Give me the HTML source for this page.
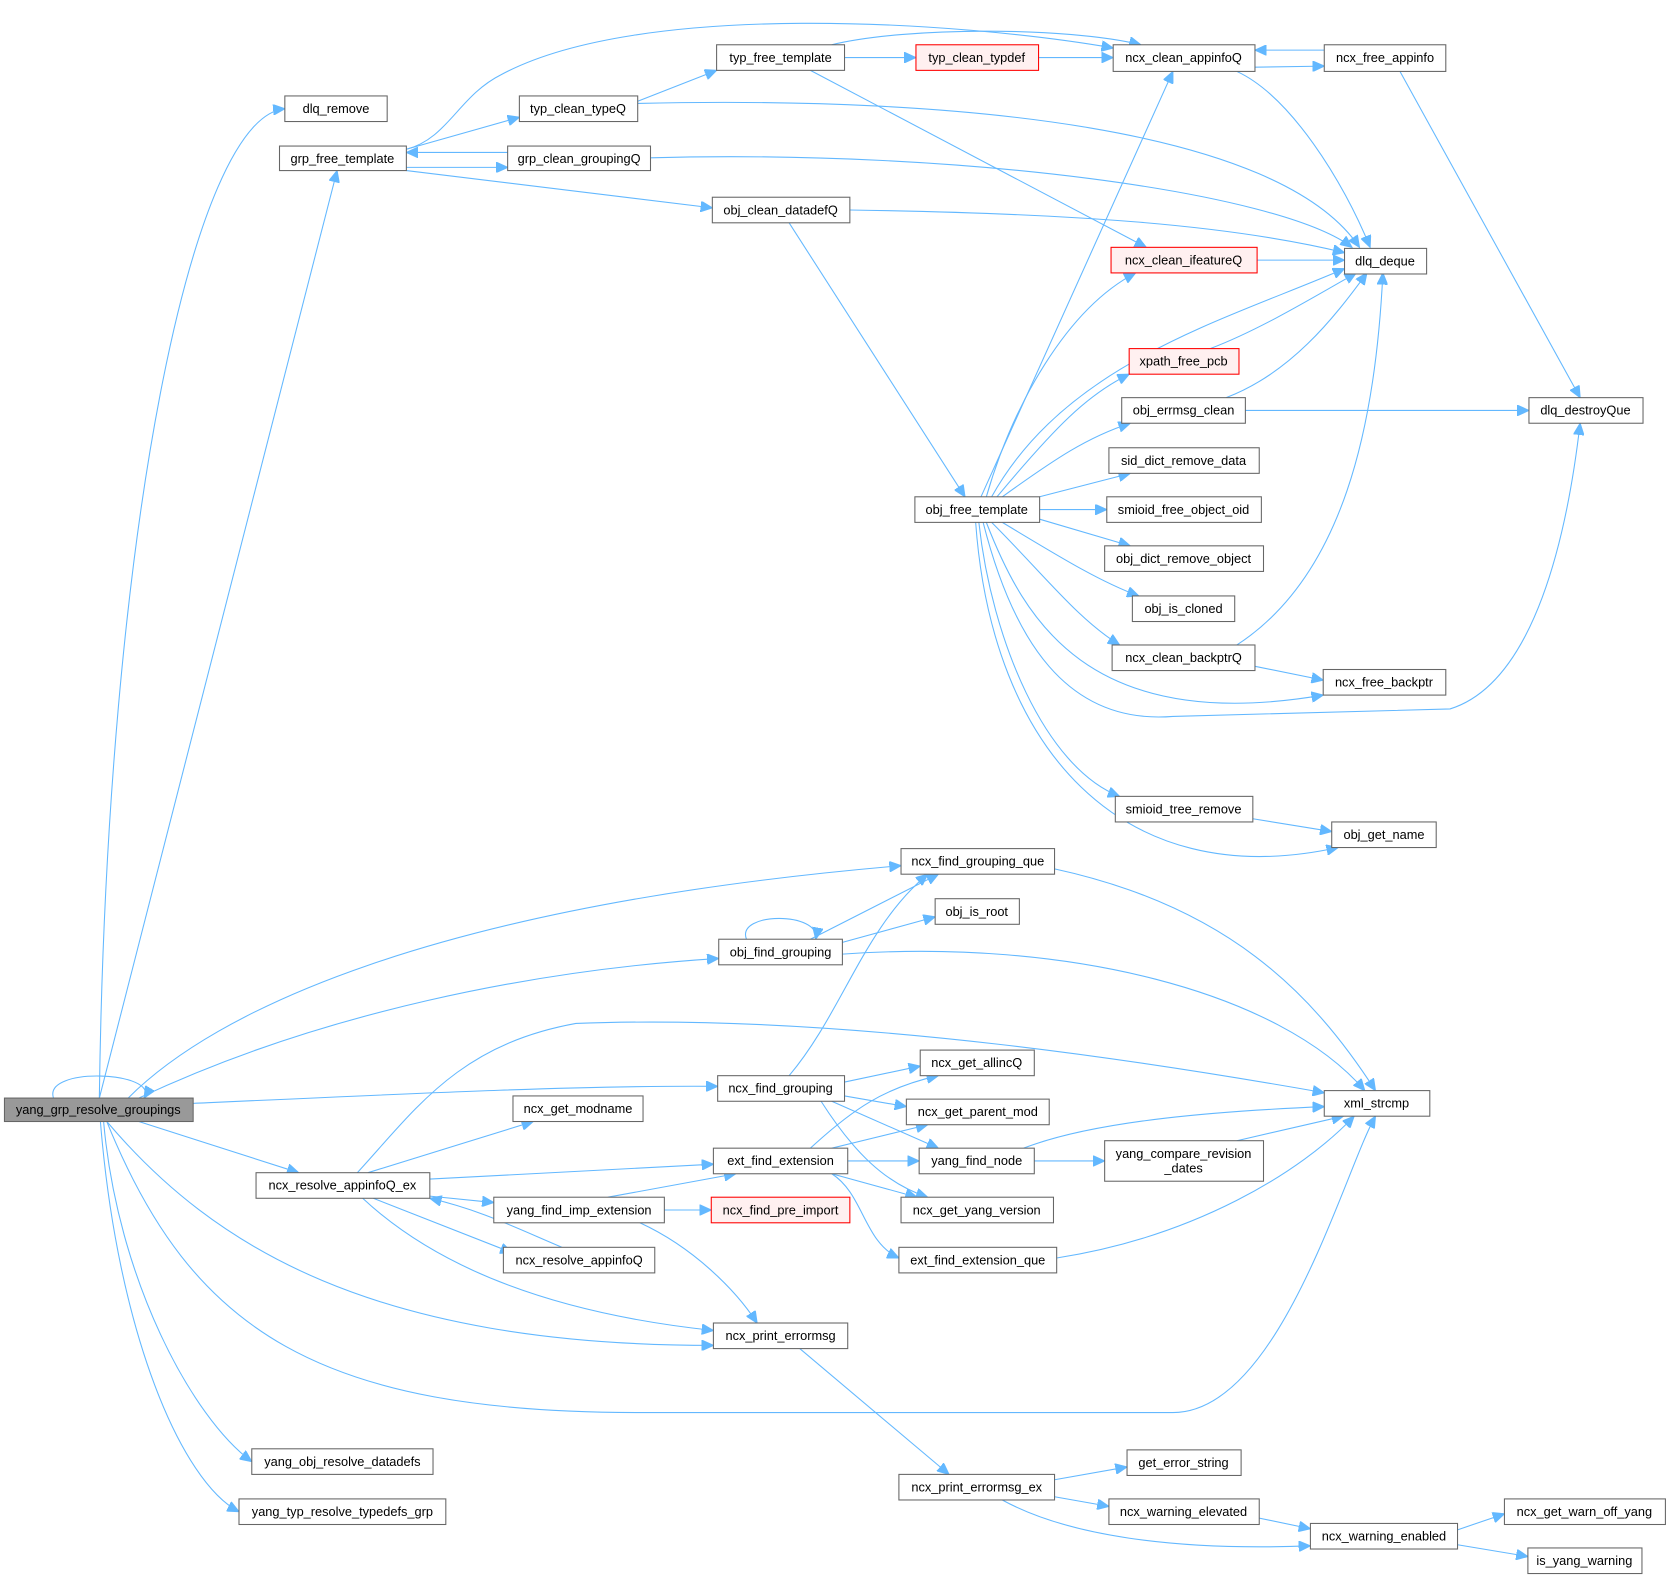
<!DOCTYPE html>
<html><head><meta charset="utf-8"><style>
html,body{margin:0;padding:0;background:#fff;}
svg{display:block}
text{font-family:"Liberation Sans",Arial,sans-serif;font-size:12px;fill:#000;text-anchor:middle}
.b{fill:#fff;stroke:#666;stroke-width:1}
.r{fill:#fff0f0;stroke:#f00;stroke-width:1}
.e path{fill:none;stroke:#63b8ff;stroke-width:1;marker-end:url(#a)}
</style></head><body>
<svg width="1672" height="1581" viewBox="0 0 1568 1483" xmlns="http://www.w3.org/2000/svg">
<defs><marker id="a" markerUnits="userSpaceOnUse" markerWidth="12" markerHeight="10" refX="11" refY="5" orient="auto"><path d="M0,0 L11,5 L0,10 z" fill="#63b8ff" stroke="#63b8ff"/></marker></defs>
<g class="e">
<path d="M50,1030 C40,1000 150,1005 135,1030"/>
<path d="M93,1030 C100,500 180,110 267,102"/>
<path d="M93,1030 L316,160"/>
<path d="M120,1030 C200,950 400,850 845,812"/>
<path d="M130,1030 C300,950 500,910 674,899"/>
<path d="M181,1035 C400,1025 550,1018 673,1019"/>
<path d="M100,1052 C180,1250 300,1325 600,1325 L1100,1325 C1200,1325 1260,1100 1290,1047"/>
<path d="M130,1052 L280,1100"/>
<path d="M100,1052 C200,1170 350,1262 669,1262"/>
<path d="M97,1052 C110,1200 180,1330 236,1371"/>
<path d="M94,1052 C110,1250 170,1390 224,1418"/>
<path d="M381,140 C420,130 430,90 470,70 C600,0 900,20 1044,45"/>
<path d="M381,140 L487,110"/>
<path d="M381,157 L476,157"/>
<path d="M476,143 L381,143"/>
<path d="M381,160 L668,195"/>
<path d="M598,95 L672,66"/>
<path d="M598,97 C900,90 1200,120 1275,232"/>
<path d="M610,148 C900,140 1200,180 1268,232"/>
<path d="M792,54 L859,54"/>
<path d="M780,42 C850,25 1000,25 1070,42"/>
<path d="M760,66 L1075,232"/>
<path d="M974,54 L1044,54"/>
<path d="M1177,63 L1242,62"/>
<path d="M1242,47 L1177,47"/>
<path d="M1160,67 C1210,90 1260,170 1285,232"/>
<path d="M1313,67 L1482,373"/>
<path d="M797,197 C1000,200 1150,210 1261,237"/>
<path d="M740,209 L905,466"/>
<path d="M1179,244 L1261,244"/>
<path d="M920,466 L1100,67"/>
<path d="M925,466 C950,380 1000,290 1065,256"/>
<path d="M930,466 C1000,340 1150,300 1261,252"/>
<path d="M935,466 C990,400 1020,370 1059,351"/>
<path d="M940,466 C990,430 1020,410 1060,397"/>
<path d="M975,466 L1060,444"/>
<path d="M975,478 L1038,478"/>
<path d="M975,487 L1060,512"/>
<path d="M940,490 C990,520 1030,545 1068,559"/>
<path d="M930,490 C980,540 1010,580 1050,605"/>
<path d="M925,490 C960,580 1020,690 1241,652"/>
<path d="M922,490 C950,600 1000,680 1100,672 L1360,665 C1440,640 1470,500 1482,397"/>
<path d="M918,490 C930,600 980,720 1050,747"/>
<path d="M915,490 C930,700 1050,840 1255,795"/>
<path d="M1135,327 C1180,310 1230,280 1272,256"/>
<path d="M1150,373 C1210,350 1250,300 1282,256"/>
<path d="M1168,385 L1434,385"/>
<path d="M1160,605 C1260,540 1290,400 1297,256"/>
<path d="M1177,625 L1241,638"/>
<path d="M1175,768 L1249,780"/>
<path d="M989,815 C1150,850 1230,930 1290,1023"/>
<path d="M760,881 L880,820"/>
<path d="M790,884 L877,860"/>
<path d="M700,881 C690,855 770,855 765,881"/>
<path d="M790,895 C1000,880 1200,930 1280,1023"/>
<path d="M740,1009 C790,950 810,870 870,820"/>
<path d="M792,1015 L863,1000"/>
<path d="M792,1028 L850,1038"/>
<path d="M780,1033 L880,1077"/>
<path d="M770,1033 C800,1080 830,1110 870,1123"/>
<path d="M335,1100 C390,1040 430,980 540,960 C800,950 1100,1000 1242,1025"/>
<path d="M345,1100 L500,1052"/>
<path d="M403,1106 L669,1092"/>
<path d="M403,1122 L463,1128"/>
<path d="M350,1124 L480,1175"/>
<path d="M340,1124 C400,1180 500,1230 669,1248"/>
<path d="M527,1170 C480,1150 450,1135 403,1124"/>
<path d="M570,1123 L690,1101"/>
<path d="M623,1135 L667,1135"/>
<path d="M600,1147 C650,1170 690,1210 710,1241"/>
<path d="M760,1077 C800,1040 830,1020 880,1009"/>
<path d="M780,1077 L870,1055"/>
<path d="M795,1089 L862,1089"/>
<path d="M780,1101 L860,1123"/>
<path d="M780,1101 C810,1120 810,1165 843,1180"/>
<path d="M960,1077 C1030,1050 1150,1042 1242,1038"/>
<path d="M970,1089 L1036,1089"/>
<path d="M1160,1070 L1260,1047"/>
<path d="M991,1180 C1120,1160 1220,1100 1270,1047"/>
<path d="M750,1265 L890,1383"/>
<path d="M989,1388 L1057,1376"/>
<path d="M989,1404 L1040,1413"/>
<path d="M940,1407 C1000,1440 1100,1455 1229,1450"/>
<path d="M1181,1424 L1229,1434"/>
<path d="M1367,1435 L1411,1420"/>
<path d="M1367,1449 L1433,1460"/>
</g>
<rect x="4" y="1030" width="177" height="22" fill="#999" stroke="#666"/><text x="92" y="1045">yang_grp_resolve_groupings</text>
<rect class="b" x="267" y="90" width="96" height="24"/><text x="315" y="106">dlq_remove</text>
<rect class="b" x="262" y="137" width="119" height="23"/><text x="321" y="153">grp_free_template</text>
<rect class="b" x="487" y="90" width="111" height="24"/><text x="542" y="106">typ_clean_typeQ</text>
<rect class="b" x="476" y="137" width="134" height="23"/><text x="543" y="153">grp_clean_groupingQ</text>
<rect class="b" x="672" y="42" width="120" height="24"/><text x="732" y="58">typ_free_template</text>
<rect class="r" x="859" y="42" width="115" height="24"/><text x="916" y="58">typ_clean_typdef</text>
<rect class="b" x="1044" y="42" width="133" height="25"/><text x="1110" y="58">ncx_clean_appinfoQ</text>
<rect class="b" x="1242" y="42" width="114" height="25"/><text x="1299" y="58">ncx_free_appinfo</text>
<rect class="b" x="668" y="185" width="129" height="24"/><text x="732" y="201">obj_clean_datadefQ</text>
<rect class="r" x="1042" y="232" width="137" height="24"/><text x="1110" y="248">ncx_clean_ifeatureQ</text>
<rect class="b" x="1261" y="233" width="77" height="24"/><text x="1299" y="249">dlq_deque</text>
<rect class="r" x="1059" y="327" width="103" height="24"/><text x="1110" y="343">xpath_free_pcb</text>
<rect class="b" x="1052" y="373" width="116" height="24"/><text x="1110" y="389">obj_errmsg_clean</text>
<rect class="b" x="1434" y="373" width="107" height="24"/><text x="1487" y="389">dlq_destroyQue</text>
<rect class="b" x="1040" y="420" width="141" height="24"/><text x="1110" y="436">sid_dict_remove_data</text>
<rect class="b" x="858" y="466" width="117" height="24"/><text x="916" y="482">obj_free_template</text>
<rect class="b" x="1038" y="466" width="145" height="24"/><text x="1110" y="482">smioid_free_object_oid</text>
<rect class="b" x="1036" y="512" width="149" height="24"/><text x="1110" y="528">obj_dict_remove_object</text>
<rect class="b" x="1062" y="559" width="96" height="24"/><text x="1110" y="575">obj_is_cloned</text>
<rect class="b" x="1043" y="605" width="134" height="24"/><text x="1110" y="621">ncx_clean_backptrQ</text>
<rect class="b" x="1241" y="628" width="115" height="24"/><text x="1298" y="644">ncx_free_backptr</text>
<rect class="b" x="1046" y="747" width="129" height="24"/><text x="1110" y="763">smioid_tree_remove</text>
<rect class="b" x="1249" y="771" width="98" height="24"/><text x="1298" y="787">obj_get_name</text>
<rect class="b" x="845" y="796" width="144" height="24"/><text x="917" y="812">ncx_find_grouping_que</text>
<rect class="b" x="877" y="843" width="79" height="24"/><text x="916" y="859">obj_is_root</text>
<rect class="b" x="674" y="881" width="116" height="24"/><text x="732" y="897">obj_find_grouping</text>
<rect class="b" x="863" y="985" width="107" height="24"/><text x="916" y="1001">ncx_get_allincQ</text>
<rect class="b" x="673" y="1009" width="119" height="24"/><text x="732" y="1025">ncx_find_grouping</text>
<rect class="b" x="1242" y="1023" width="99" height="24"/><text x="1291" y="1039">xml_strcmp</text>
<rect class="b" x="481" y="1028" width="122" height="24"/><text x="542" y="1044">ncx_get_modname</text>
<rect class="b" x="850" y="1031" width="134" height="24"/><text x="917" y="1047">ncx_get_parent_mod</text>
<rect class="b" x="669" y="1077" width="126" height="24"/><text x="732" y="1093">ext_find_extension</text>
<rect class="b" x="862" y="1077" width="108" height="24"/><text x="916" y="1093">yang_find_node</text>
<rect class="b" x="1036" y="1070" width="149" height="38"/><text x="1110" y="1086">yang_compare_revision</text><text x="1110" y="1100">_dates</text>
<rect class="b" x="240" y="1100" width="163" height="24"/><text x="321" y="1116">ncx_resolve_appinfoQ_ex</text>
<rect class="b" x="463" y="1123" width="160" height="24"/><text x="543" y="1139">yang_find_imp_extension</text>
<rect class="r" x="667" y="1123" width="130" height="24"/><text x="732" y="1139">ncx_find_pre_import</text>
<rect class="b" x="845" y="1123" width="143" height="24"/><text x="916" y="1139">ncx_get_yang_version</text>
<rect class="b" x="472" y="1170" width="142" height="24"/><text x="543" y="1186">ncx_resolve_appinfoQ</text>
<rect class="b" x="843" y="1170" width="148" height="24"/><text x="917" y="1186">ext_find_extension_que</text>
<rect class="b" x="669" y="1241" width="126" height="24"/><text x="732" y="1257">ncx_print_errormsg</text>
<rect class="b" x="1057" y="1360" width="107" height="24"/><text x="1110" y="1376">get_error_string</text>
<rect class="b" x="236" y="1359" width="170" height="24"/><text x="321" y="1375">yang_obj_resolve_datadefs</text>
<rect class="b" x="843" y="1383" width="146" height="24"/><text x="916" y="1399">ncx_print_errormsg_ex</text>
<rect class="b" x="1040" y="1406" width="141" height="24"/><text x="1110" y="1422">ncx_warning_elevated</text>
<rect class="b" x="224" y="1406" width="194" height="24"/><text x="321" y="1422">yang_typ_resolve_typedefs_grp</text>
<rect class="b" x="1229" y="1429" width="138" height="24"/><text x="1298" y="1445">ncx_warning_enabled</text>
<rect class="b" x="1411" y="1406" width="151" height="24"/><text x="1486" y="1422">ncx_get_warn_off_yang</text>
<rect class="b" x="1433" y="1452" width="107" height="24"/><text x="1486" y="1468">is_yang_warning</text>
</svg>
</body></html>
